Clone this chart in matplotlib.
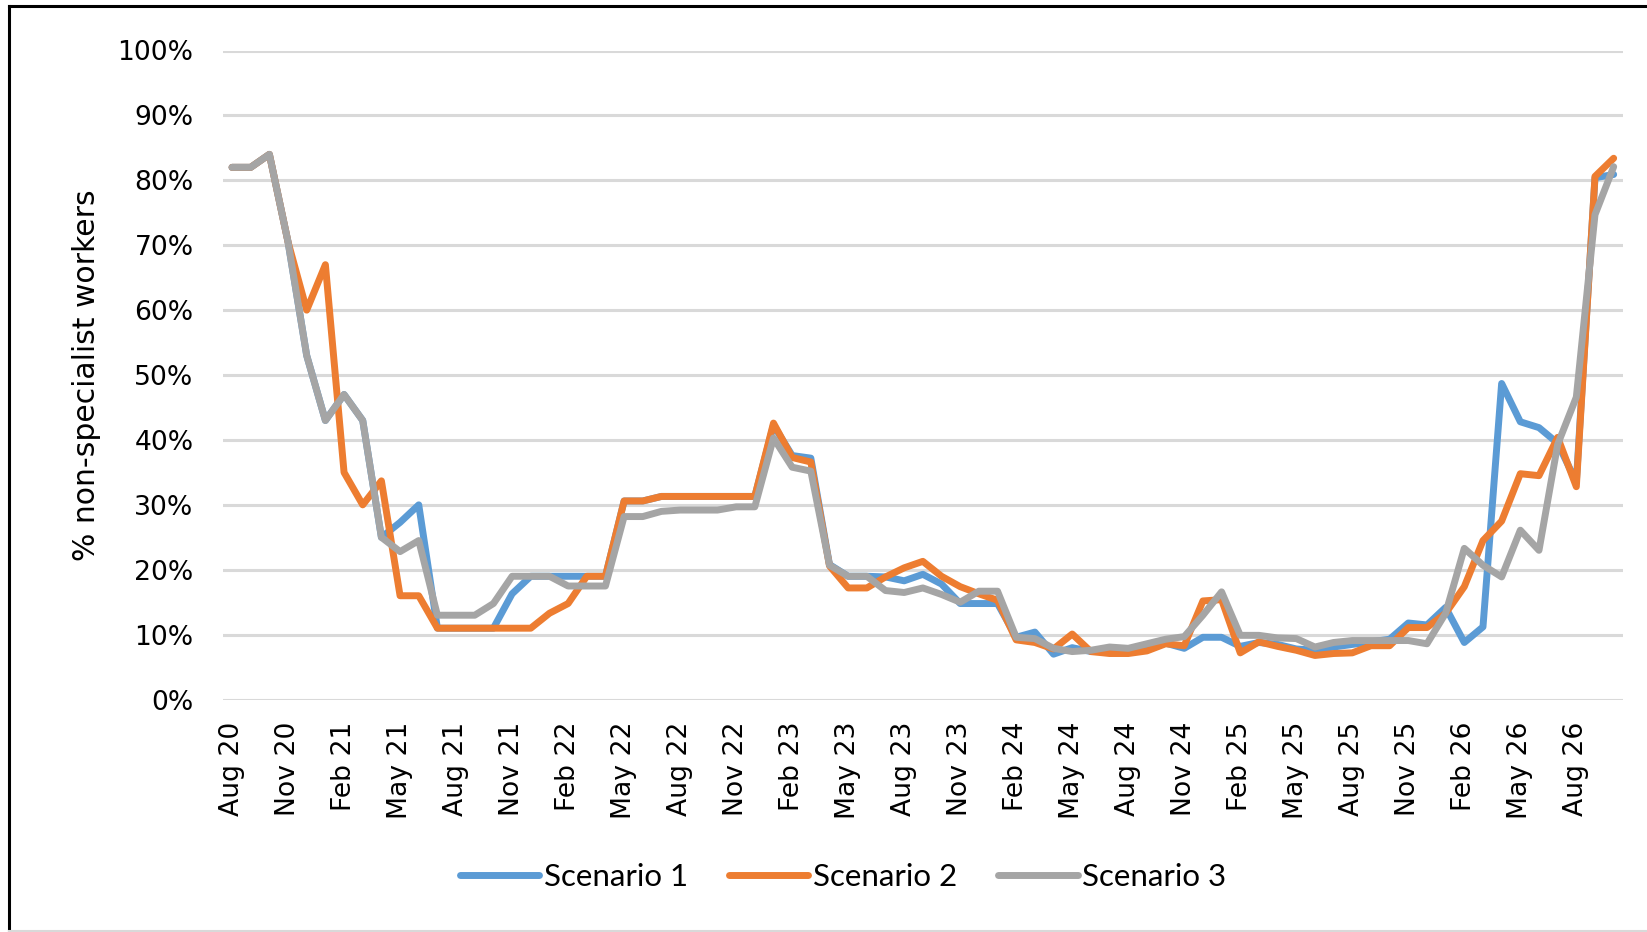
import numpy as np
import pandas as pd
import matplotlib
matplotlib.use("Agg")
import matplotlib.pyplot as plt
from matplotlib.lines import Line2D
from matplotlib.ticker import PercentFormatter

# --- data (% of non-specialist workers) ---
months = pd.date_range("2020-08-01", periods=75, freq="MS").strftime("%b %y").tolist()

scenario_1 = [82.0, 82.0, 84.0, 70.5, 53.0, 43.0, 47.0, 43.0, 25.0, 27.3,
              30.0, 11.0, 11.0, 11.0, 11.0, 16.3, 19.0, 19.0, 19.0, 19.0,
              19.0, 30.6, 30.6, 31.3, 31.3, 31.3, 31.3, 31.3, 31.3, 42.3,
              37.6, 37.2, 20.8, 19.0, 19.0, 18.9, 18.3, 19.3, 17.8, 14.8,
              14.8, 14.8, 9.6, 10.4, 7.0, 8.0, 7.4, 7.4, 7.5, 7.7,
              8.7, 7.9, 9.6, 9.6, 8.2, 8.8, 8.5, 7.8, 7.6, 8.1,
              8.5, 8.9, 9.3, 11.8, 11.5, 14.2, 8.8, 11.2, 48.7, 42.8,
              41.9, 39.5, 33.5, 80.4, 80.9]

scenario_2 = [82.0, 82.0, 84.0, 70.5, 60.0, 67.0, 35.0, 30.0, 33.7, 16.0,
              16.0, 11.0, 11.0, 11.0, 11.0, 11.0, 11.0, 13.3, 14.8, 19.0,
              19.0, 30.6, 30.6, 31.3, 31.3, 31.3, 31.3, 31.3, 31.3, 42.6,
              37.3, 36.6, 20.6, 17.2, 17.2, 18.9, 20.3, 21.3, 19.0, 17.4,
              16.3, 15.3, 9.2, 8.8, 7.8, 10.1, 7.4, 7.1, 7.1, 7.5,
              8.6, 8.3, 15.2, 15.4, 7.2, 8.9, 8.2, 7.6, 6.8, 7.1,
              7.2, 8.3, 8.3, 11.1, 11.1, 13.3, 17.4, 24.5, 27.5, 34.8,
              34.5, 40.4, 32.8, 80.6, 83.4]

scenario_3 = [82.0, 82.0, 84.0, 70.5, 53.0, 43.0, 47.0, 43.0, 25.0, 22.8,
              24.5, 13.0, 13.0, 13.0, 14.8, 19.0, 19.0, 19.0, 17.5, 17.5,
              17.5, 28.2, 28.2, 29.0, 29.2, 29.2, 29.2, 29.7, 29.7, 40.3,
              35.8, 35.2, 20.7, 19.0, 19.0, 16.8, 16.5, 17.2, 16.2, 15.0,
              16.7, 16.7, 9.6, 9.4, 7.9, 7.4, 7.6, 8.1, 7.9, 8.6,
              9.3, 9.7, 13.0, 16.6, 9.9, 9.9, 9.5, 9.4, 8.1, 8.8,
              9.1, 9.1, 9.1, 9.1, 8.6, 13.3, 23.3, 20.7, 18.9, 26.1,
              23.0, 39.3, 46.6, 74.7, 82.1]

series_names = ["Scenario 1", "Scenario 2", "Scenario 3"]
series_colors = ["#5B9BD5", "#ED7D31", "#A5A5A5"]

# --- figure ---
W, H = 1647, 932
fig = plt.figure(figsize=(W / 100, H / 100), dpi=100)
ax = fig.add_axes([222.7 / W, 1 - 699.6 / H, (1623 - 222.7) / W, (699.6 - 50.5) / H])

x = np.arange(len(months))
for vals, name, col in zip([scenario_1, scenario_2, scenario_3], series_names, series_colors):
    ax.plot(x, np.array(vals) / 100, color=col, lw=5.0, label=name,
            solid_joinstyle="round", solid_capstyle="round")

ax.set_xlim(-0.5, len(months) - 0.5)
ax.set_ylim(0, 1)
ax.set_yticks(np.linspace(0, 1, 11))
ax.yaxis.set_major_formatter(PercentFormatter(1.0, decimals=0))
ax.set_xticks(x[::3])
ax.set_xticklabels(months[::3], rotation=90)
ax.grid(axis="y", color="#D9D9D9", lw=2.2)
ax.set_axisbelow(True)
for s in ax.spines.values():
    s.set_visible(False)
ax.tick_params(axis="both", length=0, labelsize=19.2, colors="#000000")
ax.tick_params(axis="y", pad=21)
ax.tick_params(axis="x", pad=16)

ax.set_ylabel("% non-specialist workers", fontsize=21.5)
ax.yaxis.set_label_coords((101 - 222.7) / (1623 - 222.7), 0.5)

leg = ax.legend(loc="center", bbox_to_anchor=(843 / W, 1 - 877 / H),
                bbox_transform=fig.transFigure, ncol=3, frameon=False,
                prop={"family": ["Lato", "DejaVu Sans"], "size": 22.5},
                handlelength=2.55, handletextpad=0.15, columnspacing=1.3)
for h in leg.get_lines():
    h.set_linewidth(5.0)
    h.set_solid_capstyle("round")

# chart frame like the screenshot: black left/top, light grey bottom
fig.add_artist(Line2D([9 / W, 9 / W], [0, 1 - 6 / H], color="black", lw=2.2))
fig.add_artist(Line2D([9 / W, 1], [1 - 6 / H, 1 - 6 / H], color="black", lw=2.2))
fig.add_artist(Line2D([9 / W, 1], [1 / H, 1 / H], color="#D9D9D9", lw=1.5))

fig.savefig("out.png", dpi=100, facecolor="white")
